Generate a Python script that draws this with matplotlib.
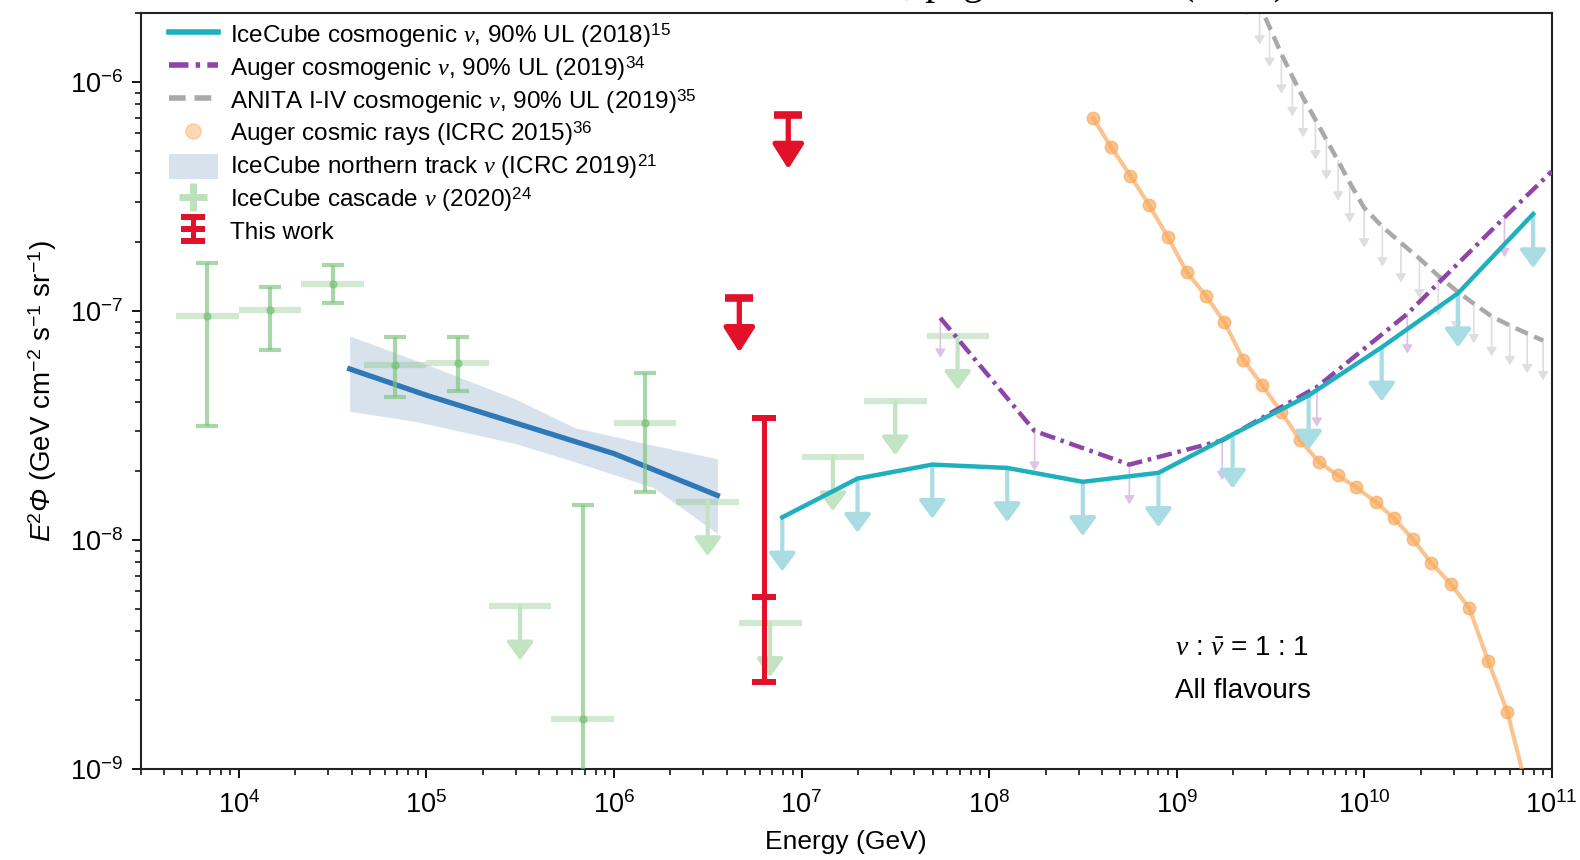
import numpy as np
import matplotlib
matplotlib.use('Agg')
import matplotlib.pyplot as plt
from matplotlib.lines import Line2D
from matplotlib.patches import Patch

plt.rcParams['font.family'] = ['Liberation Sans', 'DejaVu Sans']
plt.rcParams['mathtext.fontset'] = 'custom'
plt.rcParams['mathtext.rm'] = 'Liberation Sans'
plt.rcParams['mathtext.it'] = 'Liberation Serif:italic'
plt.rcParams['mathtext.sf'] = 'Liberation Sans:italic'

# IceCube cascade (2020): measured bins
casc_E = [6.8e3, 1.47e4, 3.16e4, 6.8e4, 1.47e5, 6.8e5, 1.47e6]
casc_lo_E = [4.64e3, 1.0e4, 2.15e4, 4.64e4, 1.0e5, 4.64e5, 1.0e6]
casc_hi_E = [1.0e4, 2.15e4, 4.64e4, 1.0e5, 2.15e5, 1.0e6, 2.15e6]
casc_F = [9.5e-8, 1.01e-7, 1.32e-7, 5.8e-8, 5.95e-8, 1.66e-9, 3.25e-8]
casc_F_hi = [1.62e-7, 1.27e-7, 1.59e-7, 7.7e-8, 7.7e-8, 1.43e-8, 5.37e-8]
casc_F_lo = [3.15e-8, 6.8e-8, 1.09e-7, 4.22e-8, 4.48e-8, 1e-10, 1.63e-8]
# IceCube cascade (2020): upper limits
casc_ul_E = [3.16e5, 3.16e6, 6.8e6, 1.47e7, 3.16e7, 6.8e7]
casc_ul_lo_E = [2.15e5, 2.15e6, 4.64e6, 1.0e7, 2.15e7, 4.64e7]
casc_ul_hi_E = [4.64e5, 4.64e6, 1.0e7, 2.15e7, 4.64e7, 1.0e8]
casc_ul_F = [5.15e-9, 1.47e-8, 4.36e-9, 2.31e-8, 4.05e-8, 7.83e-8]

# IceCube northern tracks (ICRC 2019)
track_E = [3.9e4, 1e5, 1e6, 3.56e6]
track_F = [5.6e-8, 4.3e-8, 2.39e-8, 1.57e-8]
band_E = [3.9e4, 8.8e4, 2.96e5, 6.2e5, 1.62e6, 3.56e6]
band_hi = [7.8e-8, 6.1e-8, 4.15e-8, 3.1e-8, 2.6e-8, 2.27e-8]
band_lo = [3.66e-8, 3.3e-8, 2.65e-8, 2.2e-8, 1.7e-8, 1.07e-8]

# IceCube cosmogenic 90% UL (2018)
ic_E = [7.9e6, 1.99e7, 4.98e7, 1.25e8, 3.16e8, 8.0e8, 1.99e9, 5.06e9, 1.24e10, 3.17e10, 7.96e10]
ic_F = [1.26e-8, 1.86e-8, 2.14e-8, 2.07e-8, 1.8e-8, 1.97e-8, 2.9e-8, 4.29e-8, 6.96e-8, 1.2e-7, 2.66e-7]

# Auger cosmogenic 90% UL (2019)
auger_E = [5.5e7, 1.75e8, 5.6e8, 1.75e9, 5.6e9, 1.7e10, 5.6e10, 1e11]
auger_F = [9.35e-8, 3.0e-8, 2.14e-8, 2.73e-8, 4.67e-8, 9.75e-8, 2.57e-7, 4.08e-7]

# ANITA I-IV 90% UL (2019)
anita_E = [2.36e9, 2.77e9, 3.13e9, 3.62e9, 4.14e9, 4.72e9, 5.5e9, 6.29e9, 7.26e9, 8.38e9, 1.0e10,
           1.25e10, 1.57e10, 1.97e10, 2.48e10, 3.1e10, 3.84e10, 4.78e10, 5.98e10, 7.4e10, 9.0e10]
anita_F = [2.91e-6, 2.18e-6, 1.74e-6, 1.33e-6, 1.06e-6, 8.58e-7, 6.86e-7, 5.61e-7, 4.54e-7, 3.64e-7, 2.83e-7,
           2.34e-7, 1.99e-7, 1.7e-7, 1.43e-7, 1.23e-7, 1.08e-7, 9.5e-8, 8.67e-8, 8.0e-8, 7.45e-8]

# Auger cosmic rays (ICRC 2015)
cr_E = [3.59e8, 4.49e8, 5.67e8, 7.11e8, 8.95e8, 1.135e9, 1.43e9, 1.8e9, 2.27e9, 2.85e9, 3.61e9, 4.56e9,
        5.76e9, 7.24e9, 9.1e9, 1.15e10, 1.44e10, 1.82e10, 2.28e10, 2.9e10, 3.63e10, 4.58e10, 5.81e10, 7.24e10]
cr_F = [6.97e-7, 5.19e-7, 3.91e-7, 2.92e-7, 2.12e-7, 1.48e-7, 1.17e-7, 8.95e-8, 6.14e-8, 4.78e-8, 3.63e-8, 2.73e-8,
        2.19e-8, 1.92e-8, 1.70e-8, 1.47e-8, 1.25e-8, 1.01e-8, 7.96e-9, 6.43e-9, 5.07e-9, 2.98e-9, 1.77e-9, 8.7e-10]

# This work
ul_E = [4.66e6, 8.5e6]
ul_F = [1.14e-7, 7.2e-7]
gr_E = 6.33e6
gr_F = 5.66e-9
gr_F_hi = 3.43e-8
gr_F_lo = 2.4e-9


def down_arrows(ax, xs, ys, fac, color, lw, hw, hl, z):
    for x, y in zip(xs, ys):
        a = ax.annotate('', xy=(x, y * fac), xytext=(x, y), zorder=z, annotation_clip=False,
                        arrowprops=dict(arrowstyle='-|>,head_width=%g,head_length=%g' % (hw, hl),
                                        color=color, lw=lw, shrinkA=0, shrinkB=0, mutation_scale=10))
        a.arrow_patch.set_clip_box(ax.bbox)


fig, ax = plt.subplots(figsize=(15.8, 8.6), dpi=100)
fig.subplots_adjust(left=0.0891, right=0.9821, bottom=0.1055, top=0.9845)
ax.set_xscale('log')
ax.set_yscale('log')
ax.set_xlim(3e3, 1e11)
ax.set_ylim(1e-9, 2e-6)

green = '#7cc27c'
cyan = '#1fb0bd'
cyan_light = '#a9dce3'
purple = '#8e44a8'
grey = '#a9a9a9'
orange = '#f9a95b'
red = '#e3102a'

# northern tracks
ax.fill_between(band_E, band_lo, band_hi, color='#cbd9e7', alpha=0.75, lw=0, zorder=1)
ax.plot(track_E, track_F, color='#2f78b8', lw=3.8, zorder=2)

# cascades
ax.hlines(casc_F, casc_lo_E, casc_hi_E, color=green, lw=4.5, alpha=0.35, zorder=3)
ax.errorbar(casc_E, casc_F,
            yerr=[np.array(casc_F) - np.array(casc_F_lo), np.array(casc_F_hi) - np.array(casc_F)],
            fmt='o', ms=5, color=green, alpha=0.65, elinewidth=3, capsize=8, capthick=3, zorder=3)
ax.hlines(casc_ul_F, casc_ul_lo_E, casc_ul_hi_E, color=green, lw=4.5, alpha=0.35, zorder=3)
down_arrows(ax, casc_ul_E, casc_ul_F, 0.58, '#c3e4c3', 3, 0.8, 1.1, 3)

# Auger cosmic rays
ax.plot(cr_E, cr_F, color=orange, lw=3, marker='o', ms=9, alpha=0.68, zorder=4)

# ANITA
down_arrows(ax, anita_E, anita_F, 0.67, '#dedede', 1.2, 0.3, 0.5, 2)
ax.plot(anita_E, anita_F, color=grey, lw=3.2, ls=(0, (3, 1.6)), zorder=3)

# Auger cosmogenic
down_arrows(ax, auger_E[:-1], auger_F[:-1], 0.67, '#dcc2e6', 1.2, 0.3, 0.5, 3)
ax.plot(auger_E, auger_F, color=purple, lw=3.2, ls=(0, (3.5, 1.3, 0.8, 1.3)), zorder=4)

# IceCube cosmogenic
down_arrows(ax, ic_E, ic_F, 0.58, cyan_light, 3, 0.8, 1.1, 4)
ax.plot(ic_E, ic_F, color=cyan, lw=3.2, zorder=5)

# This work
down_arrows(ax, ul_E, ul_F, 0.58, red, 3.8, 0.95, 1.5, 10)
ax.plot(ul_E, ul_F, ls='none', marker='_', ms=20, mew=5.5, color=red, zorder=10)
gr = ax.errorbar([gr_E], [gr_F], yerr=[[gr_F - gr_F_lo], [gr_F_hi - gr_F]], fmt='_', ms=17, mew=4.3,
                 color=red, elinewidth=3.6, capsize=8.6, capthick=4.3, zorder=10)

ax.text(0.733, 0.160, r'$\nu$ : $\bar{\nu}$ = 1 : 1', transform=ax.transAxes, fontsize=20, va='center')
ax.text(0.733, 0.104, 'All flavours', transform=ax.transAxes, fontsize=20, va='center')

handles = [
    Line2D([], [], color=cyan, lw=4),
    Line2D([], [], color=purple, lw=4, ls=(0, (3.5, 1.3, 0.8, 1.3))),
    Line2D([], [], color=grey, lw=4, ls=(0, (3, 1.6))),
    Line2D([], [], color=orange, ls='none', marker='o', ms=11, alpha=0.45),
    Patch(facecolor='#cbd9e7', alpha=0.75, edgecolor='none'),
    Line2D([], [], color=green, ls='none', marker='+', ms=20, mew=5, alpha=0.5),
    gr,
]
labels = [
    r'IceCube cosmogenic $\nu$, 90% UL (2018)$^{15}$',
    r'Auger cosmogenic $\nu$, 90% UL (2019)$^{34}$',
    r'ANITA I-IV cosmogenic $\nu$, 90% UL (2019)$^{35}$',
    r'Auger cosmic rays (ICRC 2015)$^{36}$',
    r'IceCube northern track $\nu$ (ICRC 2019)$^{21}$',
    r'IceCube cascade $\nu$ (2020)$^{24}$',
    'This work',
]
ax.legend(handles, labels, loc='upper left', bbox_to_anchor=(0.02, 0.99), borderaxespad=0,
          borderpad=0, frameon=False, fontsize=17.5, handlelength=2.0, handletextpad=0.5,
          handleheight=1.2, labelspacing=0.17)

ax.set_xlabel('Energy (GeV)', fontsize=19, labelpad=8)
ax.set_ylabel(r'$\mathsf{E}^{2}\mathsf{\Phi}$ (GeV cm$^{-2}$ s$^{-1}$ sr$^{-1}$)', fontsize=20, labelpad=8)
ax.xaxis.set_major_locator(matplotlib.ticker.LogLocator(base=10, numticks=20))
ax.xaxis.set_minor_locator(matplotlib.ticker.LogLocator(base=10, subs=np.arange(2, 10), numticks=20))
ax.tick_params(which='major', direction='out', length=6.5, width=1.3, labelsize=19.5, pad=6)
ax.tick_params(axis='x', which='major', pad=9)
ax.tick_params(which='minor', direction='out', length=4, width=1.1)
for s in ax.spines.values():
    s.set_linewidth(1.5)
    s.set_color('#222222')

# cut-off header text at top of page
fig.text(905 / 1580, 1 + 6 / 860, ', page', fontsize=29, family='Liberation Serif', va='baseline')
fig.text(1180 / 1580, 1 + 6 / 860, '(2021)', fontsize=29, family='Liberation Serif', va='baseline')

fig.savefig('out.png', dpi=100)
